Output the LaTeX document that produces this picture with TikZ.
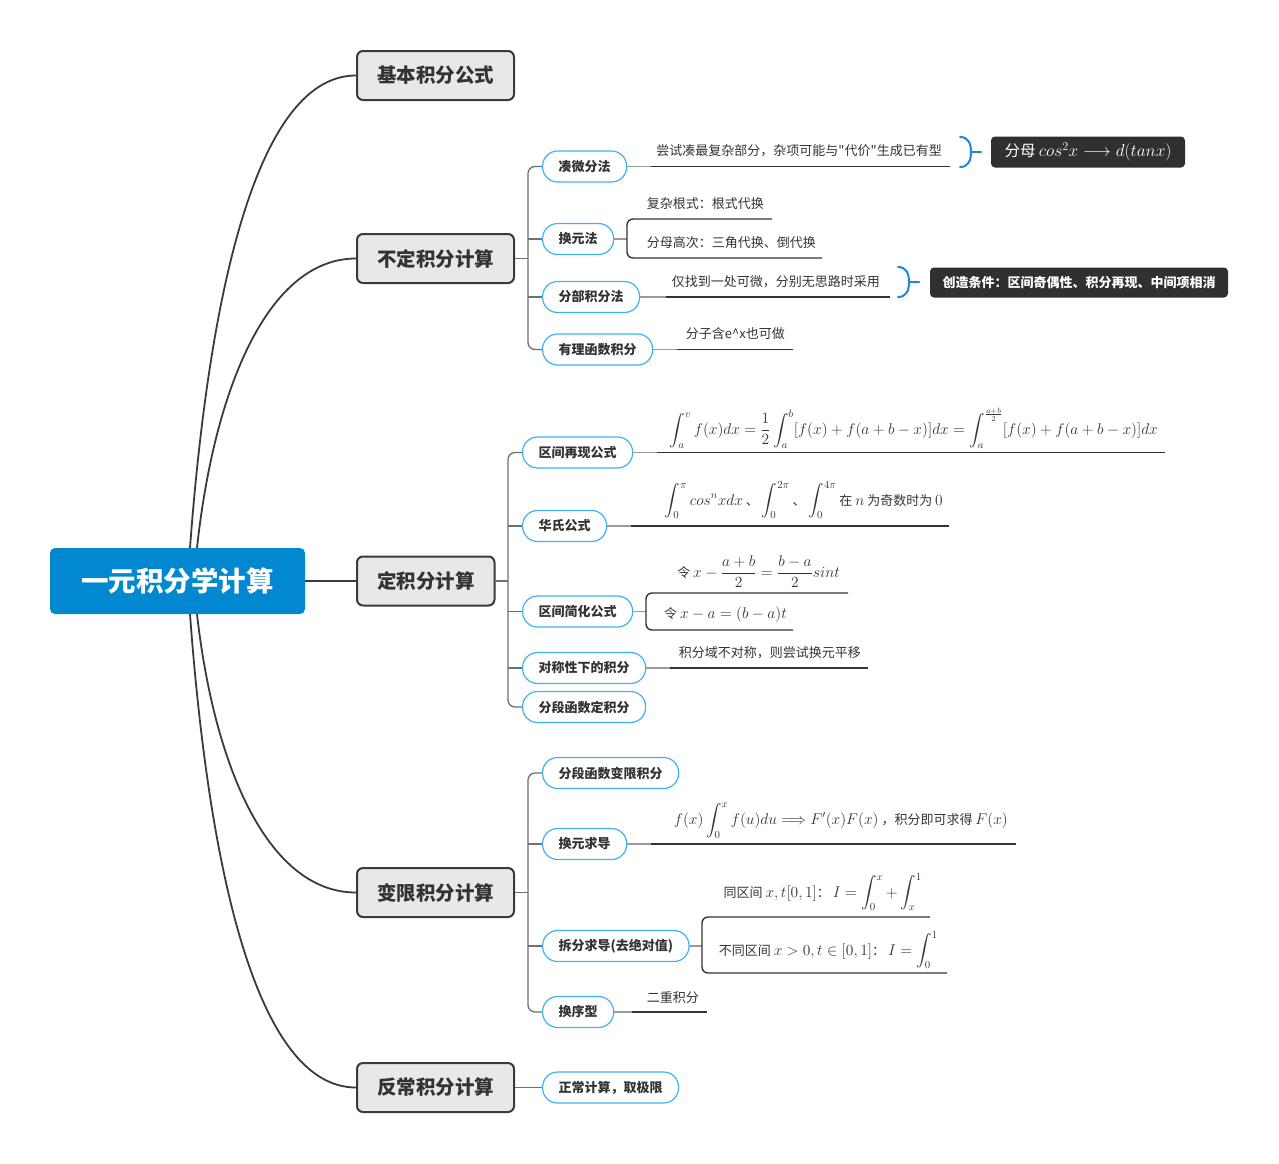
\documentclass[tikz,border=0pt]{standalone}
\usepackage[no-math]{fontspec}
\setmainfont{Noto Sans CJK SC}
\newfontfamily\qf{Noto Sans CJK SC}
\usepackage{amsmath}
\usepackage{graphicx}
\usetikzlibrary{calc}
\definecolor{rootblue}{HTML}{0288D1}
\definecolor{boxgray}{HTML}{E8E8E8}
\definecolor{boxedge}{HTML}{3A3A3A}
\definecolor{pillblue}{HTML}{3DB3EF}
\definecolor{darkfill}{HTML}{303030}
\definecolor{braceblue}{HTML}{1E88D8}
\definecolor{txt}{HTML}{333333}
\definecolor{spinegray}{HTML}{707070}
\definecolor{lightline}{HTML}{9A9A9A}
\newcommand\fm[1]{\scalebox{1.077}{\fontsize{14.4}{17}\selectfont$#1$}}
\newcommand\fmbox[1]{{\fontsize{17}{20}\selectfont$#1$}}
\newcommand\sq{{\qf"}}
\begin{document}
\begin{tikzpicture}[x=1pt,y=-1pt,
  rootbox/.style={fill=rootblue, rounded corners=5pt, minimum width=255pt, minimum height=66pt, text=white, font=\fontsize{27.5}{30}\selectfont\bfseries},
  topicbox/.style={fill=boxgray, draw=boxedge, line width=2pt, rounded corners=6pt, minimum height=49pt, inner xsep=20pt, text=txt, font=\fontsize{19.5}{22}\selectfont\bfseries, anchor=west},
  pill/.style={fill=white, draw=pillblue, line width=1.2pt, rounded corners=15pt, minimum height=31pt, inner xsep=16pt, text=txt, font=\fontsize{13}{15}\selectfont\bfseries, anchor=west},
  leaf/.style={inner sep=0pt, text=txt, font=\fontsize{13}{15}\selectfont, anchor=east},
  darkbox/.style={fill=darkfill, rounded corners=4pt, text=white, inner xsep=12pt, minimum height=31pt},
  mainline/.style={draw=boxedge, line width=1.8pt},
  subline/.style={draw=spinegray, line width=1.3pt},
  underline/.style={draw=txt, line width=1.4pt},
  underlight/.style={draw=lightline, line width=1.4pt},
  bracecurve/.style={draw=braceblue, line width=2pt, line cap=round},
]
\useasboundingbox (0,0) rectangle (1279,1163);

% root and main topics
\node[rootbox] (root) at (177.5,581) {一元积分学计算};
\node[topicbox] (b1) at (356,75.5) {基本积分公式};
\node[topicbox] (b2) at (356,258.5) {不定积分计算};
\node[topicbox] (b3) at (356,581) {定积分计算};
\node[topicbox] (b4) at (356,892.5) {变限积分计算};
\node[topicbox] (b5) at (356,1087.5) {反常积分计算};

\draw[mainline] ($(root.north)+(12.5,0)$) .. controls (210,280) and (260,75.5) .. (b1.west);
\draw[mainline] ($(root.north)+(19.5,0)$) .. controls (215,383) and (270,258.5) .. (b2.west);
\draw[mainline] (root.east) -- (b3.west);
\draw[mainline] ($(root.south)+(19.5,0)$) .. controls (215,772) and (270,892.5) .. (b4.west);
\draw[mainline] ($(root.south)+(12.5,0)$) .. controls (210,884) and (260,1087.5) .. (b5.west);

% ---------- 不定积分计算 ----------
\node[pill] (c21) at (542,166.5) {凑微分法};
\node[pill] (c22) at (542,239) {换元法};
\node[pill] (c23) at (542,297) {分部积分法};
\node[pill] (c24) at (542,349.5) {有理函数积分};
\coordinate (s2) at (528,258.5);
\draw[subline] (b2.east) -- (s2);
\draw[subline, rounded corners=7pt] (c21.west) -| (s2) |- (c24.west);
\draw[subline] (c22.west) -- (c22.west -| s2);
\draw[subline] (c23.west) -- (c23.west -| s2);

\node[leaf] (t21) at (942,151) {尝试凑最复杂部分，杂项可能与\sq 代价\sq 生成已有型};
\draw[underlight] (c21.east) -- ($(c21.east)+(24,0)$);
\draw[underline] ($(c21.east)+(24,0)$) -- ($(c21.east -| t21.east)+(8,0)$);
\draw[bracecurve] (960,137) .. controls (968,137) and (971,143) .. (971,152) .. controls (971,161) and (968,167) .. (960,167);
\draw[bracecurve] (971,152) -- (981,152);
\node[darkbox, minimum width=194pt, font=\fontsize{15.5}{18}\selectfont] (d1) at (1088,152) {分母 \fmbox{cos^2x\longrightarrow d(tanx)}};

\coordinate (k2) at (627,239);
\coordinate (k2a) at (627,219);
\coordinate (k2b) at (627,258);
\node[leaf] (t22a) at (764,204) {复杂根式：根式代换};
\node[leaf] (t22b) at (816,243) {分母高次：三角代换、倒代换};
\draw[underlight] (c22.east) -- (k2);
\draw[underline, rounded corners=6pt] ($(k2a -| t22a.east)+(8,0)$) -- (k2a) -- (k2b) -- ($(k2b -| t22b.east)+(6,0)$);

\node[leaf] (t23) at (880,282) {仅找到一处可微，分别无思路时采用};
\draw[underlight] (c23.east) -- ($(c23.east)+(26,0)$);
\draw[underline] ($(c23.east)+(26,0)$) -- ($(c23.east -| t23.east)+(10,0)$);
\draw[bracecurve] (898,267) .. controls (906,267) and (909,273) .. (909,282) .. controls (909,291) and (906,297) .. (898,297);
\draw[bracecurve] (909,282) -- (919,282);
\node[darkbox, minimum width=298pt, minimum height=30pt, font=\fontsize{13}{15}\selectfont\bfseries] (d2) at (1079,282.5) {创造条件：区间奇偶性、积分再现、中间项相消};

\node[leaf] (t24) at (785,334) {分子含e\textasciicircum x也可做};
\draw[underlight] (c24.east) -- ($(c24.east)+(24,0)$);
\draw[underline] ($(c24.east)+(24,0)$) -- ($(c24.east -| t24.east)+(8,0)$);

% ---------- 定积分计算 ----------
\node[pill] (c31) at (522,452.5) {区间再现公式};
\node[pill] (c32) at (522,526) {华氏公式};
\node[pill] (c33) at (522,611.5) {区间简化公式};
\node[pill] (c34) at (522,668) {对称性下的积分};
\node[pill] (c35) at (522,707) {分段函数定积分};
\coordinate (s3) at (508,581);
\draw[subline] (b3.east) -- (s3);
\draw[subline, rounded corners=7pt] (c31.west) -| (s3) |- (c35.west);
\draw[subline] (c32.west) -- (c32.west -| s3);
\draw[subline] (c33.west) -- (c33.west -| s3);
\draw[subline] (c34.west) -- (c34.west -| s3);

\node[leaf] (t31) at (1158,428) {\fm{\displaystyle\int_a^v f(x)dx=\frac{1}{2}\int_a^b[f(x)+f(a+b-x)]dx=\int_a^{\frac{a+b}{2}}[f(x)+f(a+b-x)]dx}};
\draw[underlight] (c31.east) -- ($(c31.east)+(24,0)$);
\draw[underline] ($(c31.east)+(24,0)$) -- ($(c31.east -| t31.east)+(7,0)$);

\node[leaf] (t32) at (943,500) {\fm{\displaystyle\int_0^\pi cos^nxdx} 、 \fm{\displaystyle\int_0^{2\pi}} 、 \fm{\displaystyle\int_0^{4\pi}} 在 \fm{n} 为奇数时为 \fm{0}};
\draw[underlight] (c32.east) -- ($(c32.east)+(24,0)$);
\draw[underline] ($(c32.east)+(24,0)$) -- ($(c32.east -| t32.east)+(6,0)$);

\coordinate (k3) at (646,611.5);
\coordinate (k3a) at (646,593);
\coordinate (k3b) at (646,630);
\node[leaf] (t33a) at (840,572) {令 \fm{x-\dfrac{a+b}{2}=\dfrac{b-a}{2}sint}};
\node[leaf] (t33b) at (787,615) {令 \fm{x-a=(b-a)t}};
\draw[underlight] (c33.east) -- (k3);
\draw[underline, rounded corners=6pt] ($(k3a -| t33a.east)+(8,0)$) -- (k3a) -- (k3b) -- ($(k3b -| t33b.east)+(6,0)$);

\node[leaf] (t34) at (861,653) {积分域不对称，则尝试换元平移};
\draw[underlight] (c34.east) -- ($(c34.east)+(24,0)$);
\draw[underline] ($(c34.east)+(24,0)$) -- ($(c34.east -| t34.east)+(7,0)$);

% ---------- 变限积分计算 ----------
\node[pill] (c41) at (542,773) {分段函数变限积分};
\node[pill] (c42) at (542,844) {换元求导};
\node[pill] (c43) at (542,946) {拆分求导(去绝对值)};
\node[pill] (c44) at (542,1012) {换序型};
\coordinate (s4) at (528,892.5);
\draw[subline] (b4.east) -- (s4);
\draw[subline, rounded corners=7pt] (c41.west) -| (s4) |- (c44.west);
\draw[subline] (c42.west) -- (c42.west -| s4);
\draw[subline] (c43.west) -- (c43.west -| s4);

\node[leaf] (t42) at (1008,821) {\fm{f(x)\displaystyle\int_0^x f(u)du\Longrightarrow F'(x)F(x)} ，积分即可求得 \fm{F(x)}};
\draw[underlight] (c42.east) -- ($(c42.east)+(24,0)$);
\draw[underline] ($(c42.east)+(24,0)$) -- ($(c42.east -| t42.east)+(8,0)$);

\coordinate (k4) at (702,946);
\coordinate (k4a) at (702,917);
\coordinate (k4b) at (702,973);
\node[leaf] (t43a) at (922,892) {同区间 \fm{x,t[0,1]}： \fm{I=\displaystyle\int_0^x+\int_x^1}};
\node[leaf] (t43b) at (938,950) {不同区间 \fm{x>0,t\in[0,1]}： \fm{I=\displaystyle\int_0^1}};
\draw[underlight] (c43.east) -- (k4);
\draw[underline, rounded corners=6pt] ($(k4a -| t43a.east)+(8,0)$) -- (k4a) -- (k4b) -- ($(k4b -| t43b.east)+(9,0)$);

\node[leaf] (t44) at (699,998) {二重积分};
\draw[underlight] (c44.east) -- ($(c44.east)+(18,0)$);
\draw[underline] ($(c44.east)+(18,0)$) -- ($(c44.east -| t44.east)+(8,0)$);

% ---------- 反常积分计算 ----------
\node[pill] (c51) at (542,1087.5) {正常计算，取极限};
\draw[subline] (b5.east) -- (c51.west);
\end{tikzpicture}
\end{document}
